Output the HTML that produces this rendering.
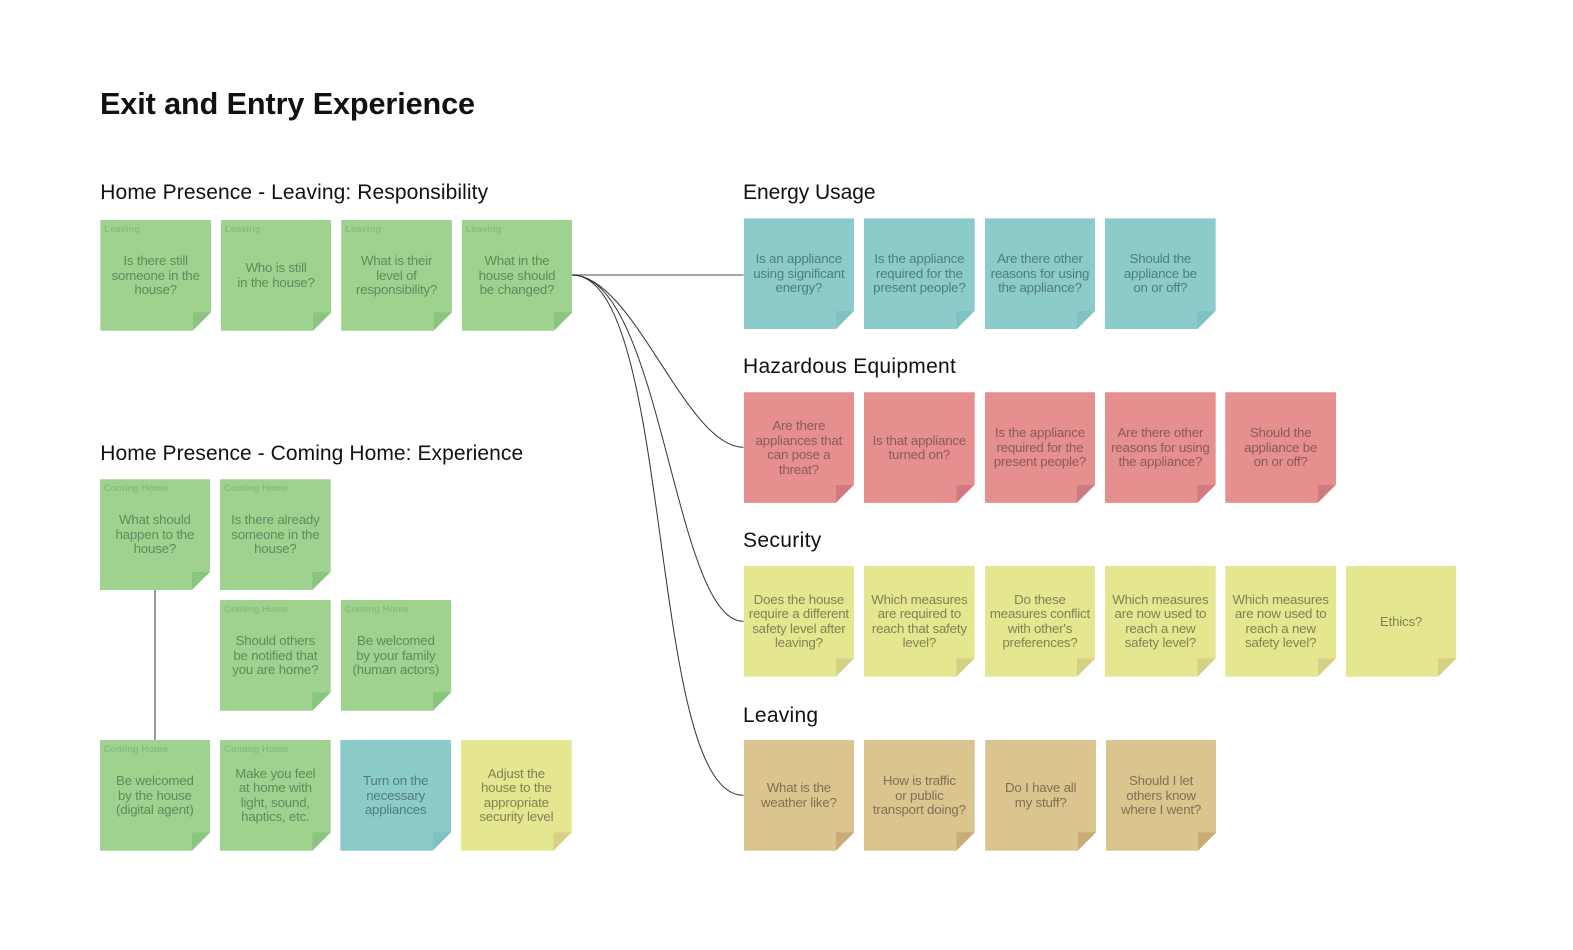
<!DOCTYPE html>
<html><head><meta charset="utf-8"><style>
html,body{margin:0;padding:0;background:#fff;width:1573px;height:950px;overflow:hidden}
body{position:relative;font-family:"Liberation Sans",sans-serif}
h1,h2{position:absolute;margin:0;font-weight:400;color:#111;white-space:nowrap;line-height:1}
h1{left:100px;top:89.3px;font-size:30.6px;font-weight:700;letter-spacing:-.1px}
h2{font-size:21px}
.s{position:absolute;width:110.7px;height:110.7px;clip-path:polygon(0 0,100% 0,100% 92.4px,92.4px 100%,0 100%)}
.s i{position:absolute;left:92.4px;top:92.4px;width:18.3px;height:18.3px;clip-path:polygon(0 0,100% 0,0 100%)}
.s b{position:absolute;left:4px;top:4px;font-size:9.5px;line-height:11px;white-space:nowrap}
.s p{position:absolute;left:0;top:.5px;width:110.7px;height:110.7px;margin:0;display:flex;align-items:center;justify-content:center;text-align:center;font-size:13.3px;line-height:14.5px;letter-spacing:-.2px;white-space:nowrap}
.g{background:#9fd28f}.g i{background:#88c680}.g b{color:#86bd7f}.g p{color:#5f8a5c}
.t{background:#8bcccb}.t i{background:#7fc2c3}.t p{color:#4f7c7e}
.r{background:#e68f8f}.r i{background:#cf7b80}.r p{color:#8a5a5c}
.y{background:#e4e78f}.y i{background:#d6cf85}.y p{color:#808254}
.n{background:#dbc58f}.n i{background:#c9ab78}.n p{color:#7f7054}
svg{position:absolute;left:0;top:0}
</style></head><body>
<svg width="1573" height="950" fill="none">
<path d="M572 275H743.5" stroke="#888" stroke-width="1.5"/>
<path d="M155 589.5V740" stroke="#888" stroke-width="1.7"/>
<g stroke="#333" stroke-width="1">
<path d="M572 275C634 275 685.5 447.3 743.5 447.3"/>
<path d="M572 275C662 275 673.5 621.3 743.5 621.3"/>
<path d="M572 275C675 275 646.5 795.3 743.5 795.3"/>
</g>
</svg>
<h1>Exit and Entry Experience</h1>
<h2 style="left:100.3px;top:182.2px;letter-spacing:.1px">Home Presence - Leaving: Responsibility</h2>
<h2 style="left:100.3px;top:442.9px;letter-spacing:.07px">Home Presence - Coming Home: Experience</h2>
<h2 style="left:743px;top:182.2px;letter-spacing:-.05px">Energy Usage</h2>
<h2 style="left:743px;top:356.2px;letter-spacing:.28px">Hazardous Equipment</h2>
<h2 style="left:743px;top:530.2px;letter-spacing:.35px">Security</h2>
<h2 style="left:743px;top:704.5px;letter-spacing:.25px">Leaving</h2>

<div class="s g" style="left:100.3px;top:220px"><i></i><b>Leaving</b><p>Is there still<br>someone in the<br>house?</p></div>
<div class="s g" style="left:220.7px;top:220px"><i></i><b>Leaving</b><p>Who is still<br>in the house?</p></div>
<div class="s g" style="left:341.2px;top:220px"><i></i><b>Leaving</b><p>What is their<br>level of<br>responsibility?</p></div>
<div class="s g" style="left:461.6px;top:220px"><i></i><b>Leaving</b><p>What in the<br>house should<br>be changed?</p></div>

<div class="s g" style="left:99.5px;top:479.3px"><i></i><b>Coming Home</b><p>What should<br>happen to the<br>house?</p></div>
<div class="s g" style="left:220px;top:479.3px"><i></i><b>Coming Home</b><p>Is there already<br>someone in the<br>house?</p></div>
<div class="s g" style="left:220px;top:600px"><i></i><b>Coming Home</b><p>Should others<br>be notified that<br>you are home?</p></div>
<div class="s g" style="left:340.5px;top:600px"><i></i><b>Coming Home</b><p>Be welcomed<br>by your family<br>(human actors)</p></div>
<div class="s g" style="left:99.5px;top:740px"><i></i><b>Coming Home</b><p>Be welcomed<br>by the house<br>(digital agent)</p></div>
<div class="s g" style="left:220px;top:740px"><i></i><b>Coming Home</b><p>Make you feel<br>at home with<br>light, sound,<br>haptics, etc.</p></div>
<div class="s t" style="left:340.3px;top:740px"><i></i><p>Turn on the<br>necessary<br>appliances</p></div>
<div class="s y" style="left:461px;top:740px"><i></i><p>Adjust the<br>house to the<br>appropriate<br>security level</p></div>

<div class="s t" style="left:743.5px;top:218.4px"><i></i><p>Is an appliance<br>using significant<br>energy?</p></div>
<div class="s t" style="left:864px;top:218.4px"><i></i><p>Is the appliance<br>required for the<br>present people?</p></div>
<div class="s t" style="left:984.6px;top:218.4px"><i></i><p>Are there other<br>reasons for using<br>the appliance?</p></div>
<div class="s t" style="left:1105px;top:218.4px"><i></i><p>Should the<br>appliance be<br>on or off?</p></div>

<div class="s r" style="left:743.5px;top:392.2px"><i></i><p>Are there<br>appliances that<br>can pose a<br>threat?</p></div>
<div class="s r" style="left:864px;top:392.2px"><i></i><p>Is that appliance<br>turned on?</p></div>
<div class="s r" style="left:984.6px;top:392.2px"><i></i><p>Is the appliance<br>required for the<br>present people?</p></div>
<div class="s r" style="left:1105px;top:392.2px"><i></i><p>Are there other<br>reasons for using<br>the appliance?</p></div>
<div class="s r" style="left:1225.3px;top:392.2px"><i></i><p>Should the<br>appliance be<br>on or off?</p></div>

<div class="s y" style="left:743.5px;top:566px"><i></i><p>Does the house<br>require a different<br>safety level after<br>leaving?</p></div>
<div class="s y" style="left:864px;top:566px"><i></i><p>Which measures<br>are required to<br>reach that safety<br>level?</p></div>
<div class="s y" style="left:984.6px;top:566px"><i></i><p>Do these<br>measures conflict<br>with other's<br>preferences?</p></div>
<div class="s y" style="left:1105px;top:566px"><i></i><p>Which measures<br>are now used to<br>reach a new<br>safety level?</p></div>
<div class="s y" style="left:1225.3px;top:566px"><i></i><p>Which measures<br>are now used to<br>reach a new<br>safety level?</p></div>
<div class="s y" style="left:1345.7px;top:566px"><i></i><p>Ethics?</p></div>

<div class="s n" style="left:743.5px;top:740px"><i></i><p>What is the<br>weather like?</p></div>
<div class="s n" style="left:864px;top:740px"><i></i><p>How is traffic<br>or public<br>transport doing?</p></div>
<div class="s n" style="left:985.3px;top:740px"><i></i><p>Do I have all<br>my stuff?</p></div>
<div class="s n" style="left:1105.7px;top:740px"><i></i><p>Should I let<br>others know<br>where I went?</p></div>
</body></html>
